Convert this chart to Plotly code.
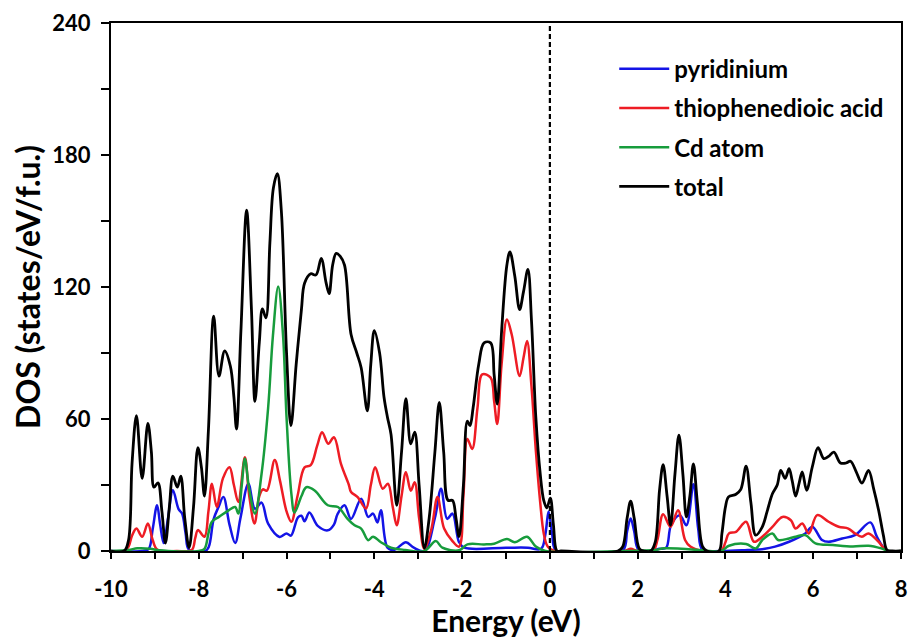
import plotly.graph_objects as go

# ---------------- data ----------------
e_total = [-10, -9.7, -9.6, -9.52, -9.42, -9.29, -9.16, -9.08, -9.02, -8.93, -8.84, -8.76, -8.67, -8.59,
           -8.49, -8.41, -8.32, -8.22, -8.12, -8.02, -7.94, -7.87, -7.78, -7.66, -7.54, -7.41, -7.28, -7.20,
           -7.14, -7.04, -6.91, -6.80, -6.72, -6.62, -6.55, -6.47, -6.38, -6.30, -6.21, -6.12, -6.00, -5.90,
           -5.78, -5.66, -5.59, -5.45, -5.33, -5.21, -5.10, -5.03, -4.95, -4.87, -4.78, -4.68, -4.53, -4.40,
           -4.30, -4.16, -4.08, -4.00, -3.88, -3.78, -3.70, -3.62, -3.49, -3.38, -3.28, -3.17, -3.08, -2.98,
           -2.86, -2.75, -2.62, -2.52, -2.42, -2.32, -2.22, -2.14, -2.07, -1.97, -1.88, -1.82, -1.75, -1.62,
           -1.50, -1.35, -1.27, -1.20, -1.10, -0.98, -0.91, -0.80, -0.69, -0.60, -0.50, -0.42, -0.32, -0.22,
           -0.14, -0.07, 0.01, 0.08, 0.16, 0.25, 1.55, 1.66, 1.76, 1.84, 1.92, 2.04, 2.15, 2.30, 2.40, 2.50,
           2.58, 2.67, 2.75, 2.85, 2.94, 3.03, 3.11, 3.19, 3.27, 3.36, 3.48, 3.58, 3.85, 3.92, 4.00, 4.07,
           4.24, 4.35, 4.47, 4.58, 4.69, 4.84, 4.95, 5.07, 5.18, 5.26, 5.36, 5.45, 5.52, 5.60, 5.68, 5.75,
           5.85, 5.98, 6.11, 6.24, 6.35, 6.47, 6.62, 6.75, 6.85, 6.98, 7.11, 7.26, 7.38, 7.49, 7.60, 7.68,
           7.80, 8.0]
dos_total = [0, 0, 5, 40, 61.5, 33, 58, 45, 29, 31, 18, 3.6, 20, 34,
             29, 34, 15, 1.5, 20, 47, 38, 25, 55, 106.7, 79.5, 91, 84, 70,
             55.4, 100, 154.9, 110, 68, 95, 110, 106, 140, 165, 171.5, 155, 90, 57,
             85, 110, 121.7, 126, 125.5, 133, 122, 117, 130, 135.3, 134, 130, 98.4, 90,
             83.3, 63.7, 85, 100.2, 90, 70, 60.7, 53, 20.8, 45, 69.3, 48.7, 54, 30,
             1.3, 15, 45, 67.5, 45, 23, 23, 15, 6.5, 30, 59, 57, 65, 85,
             94.6, 94.6, 80, 66.8, 100, 130, 136, 125, 109.7, 118, 128, 105, 60.7, 35,
             23, 19.6, 24, 12, 0, 0, 0, 2, 15, 22.7, 15, 1, 0, 0, 4, 28,
             39.3, 25, 11.7, 35, 52.7, 35, 15.5, 25, 39.6, 22, 2, 0, 0, 8, 20, 24.6,
             25.8, 28, 38.6, 22, 7.2, 11, 18, 26, 30, 36.6, 33, 37.4, 32, 24.9, 31, 36,
             27.6, 38.3, 47, 42, 43, 44.9, 40, 40, 40.8, 36, 30.9, 36.6, 28, 18.5, 7, 0.5,
             0, 0]

e_thio = [-10, -9.7, -9.6, -9.52, -9.42, -9.29, -9.16, -9.05, -8.94, -8.5, -8.16, -8.08, -8.02, -7.87,
          -7.78, -7.70, -7.59, -7.45, -7.30, -7.20, -7.10, -6.95, -6.85, -6.73, -6.62, -6.54, -6.45, -6.27,
          -6.15, -6.0, -5.89, -5.75, -5.59, -5.45, -5.30, -5.19, -5.05, -4.92, -4.76, -4.58, -4.53, -4.38,
          -4.19, -4.08, -3.98, -3.81, -3.69, -3.58, -3.49, -3.38, -3.28, -3.17, -3.08, -2.98, -2.86, -2.70,
          -2.56, -2.41, -2.22, -2.07, -1.97, -1.88, -1.77, -1.65, -1.54, -1.35, -1.27, -1.20, -1.10, -0.98,
          -0.87, -0.69, -0.60, -0.52, -0.42, -0.32, -0.22, -0.14, -0.05, 0.1, 1.7, 1.84, 2.0, 2.35, 2.45,
          2.58, 2.75, 2.92, 3.08, 3.20, 3.48, 3.90, 4.0, 4.08, 4.24, 4.47, 4.65, 4.84, 5.07, 5.30, 5.49,
          5.60, 5.75, 5.90, 6.09, 6.35, 6.58, 6.80, 6.95, 7.11, 7.26, 7.49, 7.68, 8.0]
dos_thio = [0, 0, 2, 7, 10.2, 6.5, 12.5, 5, 0.5, 0, 0.5, 6, 9.5, 6.5,
            18, 30.6, 20, 33, 38.1, 30, 22.3, 42.6, 25, 12.5, 25, 28, 27.4, 41.4,
            32, 18, 13.3, 25, 38, 39, 48, 54, 48.8, 51.7, 39.6, 30, 26.8, 24.5,
            19.3, 30, 38.1, 28.3, 30.6, 20, 11.7, 25, 35.8, 27.4, 31.2, 15, 1, 10,
            24.6, 10.2, 4.5, 2, 25, 50.9, 46.4, 65, 80.3, 78.8, 68, 57.7, 85, 105.2,
            98.4, 79.5, 88, 95.4, 75, 45.7, 22, 8, 2, 0, 0, 1, 0, 0, 5,
            16.7, 11, 18.5, 5, 2, 0, 0, 4, 8, 8.7, 13.3, 4.2, 6.5, 11, 15.5, 14,
            10.2, 12.5, 8, 16.3, 13.3, 11, 10.2, 8, 6.5, 8, 4.2, 0, 0]

e_cd = [-10, -9.6, -9.4, -9.1, -8.9, -8.0, -7.87, -7.78, -7.70, -7.54, -7.32, -7.17, -7.10, -7.02,
        -6.95, -6.85, -6.72, -6.57, -6.42, -6.31, -6.19, -6.08, -6.0, -5.89, -5.82, -5.66, -5.55, -5.36,
        -5.06, -4.83, -4.61, -4.45, -4.30, -4.14, -4.03, -3.85, -3.62, -3.3, -2.86, -2.60, -2.45, -2.07,
        -1.88, -1.5, -1.27, -0.98, -0.80, -0.52, -0.32, -0.1, 1.7, 2.4, 2.6, 3.0, 3.4, 3.9, 4.08, 4.47,
        4.69, 4.84, 5.07, 5.20, 5.45, 5.60, 5.82, 6.05, 6.45, 6.90, 7.26, 7.55, 7.72, 8.0]
dos_cd = [0, 0.5, 1.2, 1, 0.3, 0, 1, 8, 13.3, 15.5, 18.5, 20, 17, 30,
          41.9, 28, 17, 35, 65, 98, 120.2, 98, 60.7, 26, 17.5, 25, 29, 27.5,
          20.8, 20, 14.6, 11.7, 10.2, 4.9, 6.5, 4, 1.5, 0.5, 0, 4.5, 1.5, 0.3,
          3, 3, 3.3, 5.4, 4, 6.5, 2, 0, 0, 0.5, 1.2, 1, 0.5, 0, 2.4, 3.2,
          1.2, 5, 8, 5, 5.7, 6.5, 7.2, 3.5, 2.7, 2, 2.4, 1.2, 0, 0]

e_pyr = [-10, -9.3, -9.14, -9.05, -8.95, -8.88, -8.80, -8.70, -8.59, -8.46, -8.38, -8.30, -8.22, -7.85,
         -7.77, -7.66, -7.55, -7.44, -7.30, -7.17, -7.05, -6.87, -6.72, -6.57, -6.42, -6.16, -6.0, -5.90,
         -5.74, -5.66, -5.59, -5.48, -5.29, -5.06, -4.92, -4.84, -4.68, -4.53, -4.30, -4.14, -4.03, -3.93,
         -3.85, -3.70, -3.55, -3.28, -3.10, -2.86, -2.62, -2.48, -2.34, -2.22, -2.07, -1.95, -1.0, -0.5,
         -0.2, -0.1, -0.03, 0.05, 0.15, 1.65, 1.76, 1.84, 1.92, 2.02, 2.3, 2.5, 2.65, 2.76, 2.96, 3.11,
         3.27, 3.38, 3.48, 3.9, 4.5, 4.9, 5.13, 5.45, 5.82, 5.98, 6.20, 6.35, 6.66, 6.95, 7.30, 7.45,
         7.68, 8.0]
dos_pyr = [0, 0, 1, 10, 20.8, 12, 3.6, 15, 27.6, 19, 17, 8, 0.5, 0,
           2, 14.6, 20, 24.6, 12, 3.6, 15, 30.6, 19.2, 22, 12.4, 6.4, 8, 7,
           15.3, 16, 13.5, 17.5, 11.4, 9.4, 12, 16.7, 20.8, 14.6, 23.8, 15.5, 17, 13,
           18.5, 1.5, 0.5, 4, 1.5, 0, 15, 28.3, 14.6, 17, 4, 1.5, 1.5, 1.5,
           1, 8, 18, 8, 0, 0, 9, 14.8, 9, 0.5, 0, 1, 1.5, 11.7, 16.3, 11.7,
           30.3, 10, 0.5, 0, 0.5, 1, 2, 4.2, 8, 11, 5, 4.2, 5.7, 7.2, 13, 6.5,
           0, 0]

series_names = ["pyridinium", "thiophenedioic acid", "Cd atom", "total"]
series_colors = ["#1414e6", "#ee1c24", "#179c3c", "#000000"]
x_tick_vals = [-10, -8, -6, -4, -2, 0, 2, 4, 6, 8]
y_tick_vals = [0, 60, 120, 180, 240]

# ---------------- figure ----------------
FONT = "Lato"
fig = go.Figure()
series = [(e_pyr, dos_pyr), (e_thio, dos_thio), (e_cd, dos_cd), (e_total, dos_total)]
for (xs, ys), name, col in zip(series, series_names, series_colors):
    fig.add_trace(go.Scatter(
        x=xs, y=ys, mode="lines", name=name, legendgroup=name,
        line=dict(color=col, width=2.8 if name == "total" else 2.5, shape="spline", smoothing=1.0),
    ))

fig.add_shape(type="line", xref="x", yref="y", x0=0, x1=0, y0=0, y1=240,
              line=dict(color="black", width=2.2, dash="5px,3px"))

fig.update_layout(
    width=916, height=642,
    margin=dict(l=111, r=9, t=20, b=91),
    paper_bgcolor="white", plot_bgcolor="white",
    font=dict(family=FONT, color="black"),
    showlegend=True,
    legend=dict(x=0.637, y=0.955, xanchor="left", yanchor="top",
                font=dict(family=FONT, size=24, color="black", weight="bold"),
                bgcolor="rgba(0,0,0,0)", borderwidth=0, itemwidth=50,
                traceorder="grouped", tracegroupgap=5),
)

fig.update_xaxes(
    range=[-10, 8], tickvals=x_tick_vals, ticktext=[str(v) for v in x_tick_vals],
    showgrid=False, zeroline=False,
    showline=True, linecolor="black", linewidth=2, mirror=True,
    ticks="outside", ticklen=6, tickwidth=2, tickcolor="black",
    minor=dict(dtick=1, tick0=-10, ticks="outside", ticklen=6, tickwidth=2, tickcolor="black", showgrid=False),
    tickfont=dict(family=FONT, size=22, color="black", weight="bold"),
    ticklabelstandoff=12,
    title=dict(text="Energy (eV)", font=dict(family=FONT, size=30, color="black", weight="bold"), standoff=4),
)
fig.update_yaxes(
    range=[0, 240], tickvals=y_tick_vals, ticktext=[str(v) for v in y_tick_vals],
    showgrid=False, zeroline=False,
    showline=True, linecolor="black", linewidth=2, mirror=True,
    ticks="outside", ticklen=8, tickwidth=2, tickcolor="black",
    minor=dict(dtick=30, tick0=0, ticks="outside", ticklen=8, tickwidth=2, tickcolor="black", showgrid=False),
    tickfont=dict(family=FONT, size=22, color="black", weight="bold"),
    ticklabelstandoff=6,
    title=dict(text="DOS (states/eV/f.u.)", font=dict(family=FONT, size=32, color="black", weight="bold"), standoff=2),
)

fig.write_html("out.html")
